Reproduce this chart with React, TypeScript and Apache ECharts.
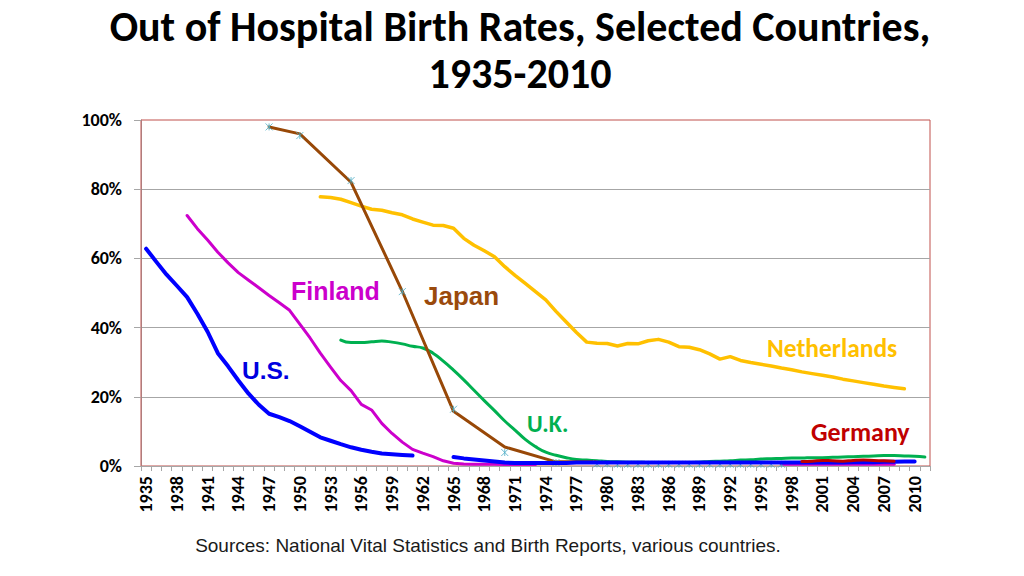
import React, { useEffect, useRef } from 'react';
import * as echarts from 'echarts';

// Categories: one per year, 1935–2011
const years: string[] = Array.from({ length: 77 }, (_, i) => String(1935 + i));
const yTickLabels = ['0%', '20%', '40%', '60%', '80%', '100%'];

type P = [string, number];

const usEarly: P[] = [
  ['1935', 62.8], ['1936', 59.0], ['1937', 55.3], ['1938', 52.1], ['1939', 48.8], ['1940', 44.0],
  ['1941', 38.8], ['1942', 32.6], ['1943', 28.8], ['1944', 24.7], ['1945', 20.9], ['1946', 17.7],
  ['1947', 15.1], ['1948', 14.1], ['1949', 13.0], ['1950', 11.5], ['1951', 9.9], ['1952', 8.3],
  ['1953', 7.3], ['1954', 6.3], ['1955', 5.4], ['1956', 4.7], ['1957', 4.1], ['1958', 3.6],
  ['1959', 3.4], ['1960', 3.2], ['1961', 3.0],
];
const usLate: P[] = [
  ['1965', 2.6], ['1966', 2.2], ['1967', 1.9], ['1968', 1.6], ['1969', 1.3], ['1970', 1.0],
  ['1971', 0.9], ['1972', 0.9], ['1973', 0.9], ['1974', 0.9], ['1975', 0.9], ['1976', 0.9],
  ['1977', 1.0], ['1978', 1.0], ['1979', 1.0], ['1980', 1.0], ['1981', 1.0], ['1982', 1.0],
  ['1983', 1.0], ['1984', 1.0], ['1985', 1.0], ['1986', 1.0], ['1987', 1.0], ['1988', 1.0],
  ['1989', 1.0], ['1990', 1.0], ['1991', 1.0], ['1992', 1.0], ['1993', 1.0], ['1994', 1.0],
  ['1995', 1.0], ['1996', 1.0], ['1997', 1.0], ['1998', 1.0], ['1999', 1.0], ['2000', 1.0],
  ['2001', 1.0], ['2002', 1.0], ['2003', 1.0], ['2004', 1.1], ['2005', 1.1], ['2006', 1.1],
  ['2007', 1.2], ['2008', 1.2], ['2009', 1.3], ['2010', 1.3],
];
const finlandEarly: P[] = [
  ['1939', 72.4], ['1940', 68.6], ['1941', 65.3], ['1942', 61.8], ['1943', 58.7], ['1944', 55.9],
  ['1945', 53.7], ['1946', 51.5], ['1947', 49.3], ['1948', 47.2], ['1949', 45.0], ['1950', 41.0],
  ['1951', 37.0], ['1952', 32.6], ['1953', 28.6], ['1954', 24.7], ['1955', 21.8], ['1956', 17.8],
  ['1957', 16.2], ['1958', 12.3], ['1959', 9.4], ['1960', 6.9], ['1961', 4.8], ['1962', 3.7],
  ['1963', 2.7], ['1964', 1.5], ['1965', 0.8], ['1966', 0.6], ['1967', 0.5], ['1968', 0.5],
  ['1969', 0.5], ['1970', 0.4], ['1971', 0.4], ['1972', 0.4], ['1973', 0.4],
];
const finlandLate: P[] = [
  ['1997', 0.5], ['1998', 0.5], ['1999', 0.5], ['2000', 0.5], ['2001', 0.5], ['2002', 0.5],
  ['2003', 0.5], ['2004', 0.5], ['2005', 0.5], ['2006', 0.5], ['2007', 0.5], ['2008', 0.5],
];
const japanLine: P[] = [
  ['1947', 98.0], ['1950', 96.0], ['1955', 82.0], ['1960', 50.5], ['1965', 15.8], ['1970', 5.5],
  ['1975', 1.2], ['1979', 1.2],
];
const japanMarkers: P[] = [
  ['1947', 98.0], ['1950', 95.5], ['1955', 82.5], ['1960', 50.4], ['1965', 16.4], ['1970', 3.9],
  ['1975', 1.0], ['1979', 0.6], ['1980', 0.6], ['1981', 0.5], ['1982', 0.5], ['1983', 0.5],
  ['1984', 0.5], ['1985', 0.5], ['1986', 0.5], ['1987', 0.5], ['1988', 0.5], ['1989', 0.5],
  ['1990', 0.5], ['1991', 0.5], ['1992', 0.5], ['1993', 0.5], ['1994', 0.5], ['1995', 0.5],
  ['1996', 0.5], ['1997', 0.5],
];
const uk: P[] = [
  ['1954', 36.4], ['1955', 35.7], ['1956', 35.7], ['1957', 35.9], ['1958', 36.1], ['1959', 35.8],
  ['1960', 35.3], ['1961', 34.6], ['1962', 34.1], ['1963', 32.6], ['1964', 30.3], ['1965', 27.7],
  ['1966', 24.9], ['1967', 21.9], ['1968', 18.9], ['1969', 16.0], ['1970', 13.0], ['1971', 10.4],
  ['1972', 7.7], ['1973', 5.6], ['1974', 4.0], ['1975', 3.1], ['1976', 2.4], ['1977', 1.9],
  ['1978', 1.7], ['1979', 1.5], ['1980', 1.3], ['1981', 1.2], ['1982', 1.1], ['1983', 1.1],
  ['1984', 1.0], ['1985', 1.0], ['1986', 1.0], ['1987', 1.0], ['1988', 1.0], ['1989', 1.1],
  ['1990', 1.3], ['1991', 1.4], ['1992', 1.5], ['1993', 1.7], ['1994', 1.8], ['1995', 2.0],
  ['1996', 2.1], ['1997', 2.2], ['1998', 2.3], ['1999', 2.3], ['2000', 2.4], ['2001', 2.4],
  ['2002', 2.5], ['2003', 2.6], ['2004', 2.7], ['2005', 2.8], ['2006', 2.9], ['2007', 3.0],
  ['2008', 3.0], ['2009', 2.9], ['2010', 2.8], ['2011', 2.6],
];
const germany: P[] = [
  ['1999', 1.3], ['2000', 1.4], ['2001', 1.6], ['2002', 1.5], ['2003', 1.4], ['2004', 1.6],
  ['2005', 1.7], ['2006', 1.6], ['2007', 1.5], ['2008', 1.4],
];
const netherlands: P[] = [
  ['1952', 77.8], ['1953', 77.6], ['1954', 77.1], ['1955', 76.1], ['1956', 75.1], ['1957', 74.2],
  ['1958', 73.9], ['1959', 73.2], ['1960', 72.6], ['1961', 71.4], ['1962', 70.5], ['1963', 69.6],
  ['1964', 69.5], ['1965', 68.7], ['1966', 65.8], ['1967', 63.8], ['1968', 62.2], ['1969', 60.5],
  ['1970', 57.6], ['1971', 55.1], ['1972', 52.8], ['1973', 50.4], ['1974', 48.0], ['1975', 44.7],
  ['1976', 41.6], ['1977', 38.6], ['1978', 35.8], ['1979', 35.5], ['1980', 35.4], ['1981', 34.7],
  ['1982', 35.4], ['1983', 35.3], ['1984', 36.2], ['1985', 36.6], ['1986', 35.8], ['1987', 34.5],
  ['1988', 34.3], ['1989', 33.6], ['1990', 32.4], ['1991', 30.9], ['1992', 31.6], ['1993', 30.5],
  ['1994', 29.9], ['1995', 29.4], ['1996', 28.9], ['1997', 28.3], ['1998', 27.8], ['1999', 27.2],
  ['2000', 26.7], ['2001', 26.2], ['2002', 25.7], ['2003', 25.1], ['2004', 24.6], ['2005', 24.1],
  ['2006', 23.6], ['2007', 23.1], ['2008', 22.7], ['2009', 22.3],
];

const COLORS = {
  us: '#0000FF',
  finland: '#CC00CC',
  japan: '#984807',
  japanMarker: '#4BACC6',
  uk: '#00B050',
  netherlands: '#FFC000',
  germany: '#C00000',
};

const CALIBRI = 'Carlito, Lato, "Open Sans", sans-serif';
const ARIAL = '"Liberation Sans", Arial, sans-serif';

const ASTERISK = 'path://M0,0L10,10M10,0L0,10M5,0L5,10';

function lineSeries(name: string, data: P[], color: string, width: number, z: number, smooth = false) {
  return {
    type: 'line',
    name,
    data,
    symbol: 'none',
    showSymbol: false,
    smooth,
    z,
    lineStyle: { color, width, cap: 'round', join: 'round' },
    itemStyle: { color },
    emphasis: { disabled: true },
  };
}

function label(text: string, x: number, y: number, color: string, size: number, family: string) {
  return {
    type: 'text',
    x,
    y,
    z: 100,
    style: {
      text,
      fill: color,
      fontFamily: family,
      fontWeight: 'bold',
      fontSize: size,
      align: 'left',
      verticalAlign: 'middle',
    },
  };
}

export default function App() {
  const ref = useRef<HTMLDivElement>(null);
  useEffect(() => {
    const chart = echarts.init(ref.current!, null, { renderer: 'svg' });
    chart.setOption({
      animation: false,
      backgroundColor: '#ffffff',
      grid: {
        left: 141,
        right: 94,
        top: 120,
        bottom: 110,
        show: true,
        borderColor: '#C0504D',
        borderWidth: 1,
        backgroundColor: 'transparent',
      },
      xAxis: {
        type: 'category',
        data: years,
        boundaryGap: true,
        axisLine: { show: true, lineStyle: { color: '#A6A6A6', width: 1 } },
        axisTick: { show: true, interval: 0, length: 5, lineStyle: { color: '#A6A6A6' } },
        axisLabel: {
          interval: 2,
          rotate: 90,
          margin: 10,
          fontFamily: CALIBRI,
          fontWeight: 'bold',
          fontSize: 18,
          color: '#000000',
        },
        splitLine: { show: false },
      },
      yAxis: {
        type: 'value',
        min: 0,
        max: 100,
        interval: 20,
        axisLine: { show: true, lineStyle: { color: '#B07C7C', width: 1 } },
        axisTick: { show: true, length: 7, lineStyle: { color: '#A6A6A6' } },
        axisLabel: {
          margin: 19,
          formatter: (v: number) => yTickLabels[Math.round(v / 20)],
          fontFamily: CALIBRI,
          fontWeight: 'bold',
          fontSize: 18,
          color: '#000000',
        },
        splitLine: { show: true, showMaxLine: false, showMinLine: false, lineStyle: { color: '#A6A6A6', width: 1 } },
      },
      series: [
        lineSeries('Netherlands', netherlands, COLORS.netherlands, 3.5, 2),
        lineSeries('U.K.', uk, COLORS.uk, 3, 3, true),
        lineSeries('Japan', japanLine, COLORS.japan, 3, 4),
        {
          type: 'scatter',
          name: 'Japan markers',
          data: japanMarkers,
          symbol: ASTERISK,
          symbolSize: 7,
          z: 5,
          itemStyle: { color: 'rgba(0,0,0,0)', borderColor: COLORS.japanMarker, borderWidth: 1 },
          emphasis: { disabled: true },
        },
        lineSeries('Finland', finlandEarly, COLORS.finland, 3, 5),
        lineSeries('Finland (late)', finlandLate, COLORS.finland, 3, 5),
        lineSeries('U.S.', usEarly, COLORS.us, 4, 6),
        lineSeries('U.S. (late)', usLate, COLORS.us, 4, 6),
        lineSeries('Germany', germany, COLORS.germany, 3, 7, true),
      ],
      graphic: [
        {
          type: 'text', x: 520, y: 26, z: 100,
          style: {
            text: 'Out of Hospital Birth Rates, Selected Countries,',
            fill: '#000', fontFamily: CALIBRI, fontWeight: 'bold', fontSize: 42,
            align: 'center', verticalAlign: 'middle',
          },
        },
        {
          type: 'text', x: 520, y: 73, z: 100,
          style: {
            text: '1935-2010',
            fill: '#000', fontFamily: CALIBRI, fontWeight: 'bold', fontSize: 42,
            align: 'center', verticalAlign: 'middle',
          },
        },
        label('Finland', 291, 291, COLORS.finland, 25, ARIAL),
        label('Japan', 424, 296, '#9A4A0C', 26, ARIAL),
        label('U.S.', 242, 370, '#0000E0', 24.5, ARIAL),
        label('U.K.', 527, 423, COLORS.uk, 24, CALIBRI),
        label('Netherlands', 767, 348, COLORS.netherlands, 25.5, CALIBRI),
        label('Germany', 811, 432, COLORS.germany, 26, CALIBRI),
        {
          type: 'text', x: 488, y: 545, z: 100,
          style: {
            text: 'Sources: National Vital Statistics and Birth Reports, various countries.',
            fill: '#1a1a1a', fontFamily: ARIAL, fontWeight: 'normal', fontSize: 19,
            align: 'center', verticalAlign: 'middle',
          },
        },
      ],
    });
    return () => chart.dispose();
  }, []);
  return (
    <div
      ref={ref}
      style={{ position: 'fixed', left: 0, top: 0, width: 1024, height: 576, background: '#ffffff' }}
    />
  );
}
